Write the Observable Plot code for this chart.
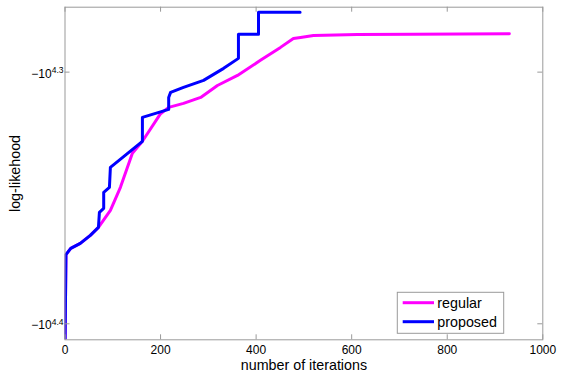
<!DOCTYPE html>
<html><head><meta charset="utf-8">
<script src="https://cdn.jsdelivr.net/npm/d3@7"></script>
<script src="https://cdn.jsdelivr.net/npm/@observablehq/plot@0.6"></script>
<style>body{margin:0;background:#fff} svg{display:block}</style>
</head><body><div id="chart"></div>
<script>
// ---- data ----
const iterRegular = [0, 2, 12, 32, 53, 70, 95, 116, 141, 162, 200, 217, 248, 284, 319, 361, 409, 451, 478, 493, 520, 612, 729, 930];
const llRegular = [-25700, -23580, -23444, -23337, -23167, -22998, -22642, -22171, -21491, -21256, -20726, -20607, -20532, -20420, -20198, -20013, -19739, -19506, -19347, -19329, -19294, -19277, -19271, -19265];
const iterProposed = [0, 2, 12, 32, 53, 70, 72, 81, 81, 93, 95, 162, 162, 217, 217, 221, 248, 290, 332, 363, 363, 405, 405, 492];
const llProposed = [-25700, -23580, -23444, -23337, -23167, -22998, -22684, -22601, -22272, -22171, -21769, -21256, -20797, -20645, -20420, -20326, -20233, -20104, -19884, -19703, -19275, -19275, -18891, -18891];
const xTicks = [0, 200, 400, 600, 800, 1000];
const yTickExponents = [4.3, 4.4];
const seriesNames = ["regular", "proposed"];
const seriesColors = ["#ff00ff", "#0000ff"];
const xLabel = "number of iterations";
const yLabel = "log-likehood";

const yTicks = yTickExponents.map(e => -Math.pow(10, e));
const regular = iterRegular.map((x, i) => ({x, y: llRegular[i]}));
const proposed = iterProposed.map((x, i) => ({x, y: llProposed[i]}));

const W = 564, H = 376, mL = 64.5, mR = 21.7, mT = 6.7, mB = 36.7;
const plotH = H - mT - mB, plotW = W - mL - mR;
const axisColor = "#9a9a9a";
const font = "'Liberation Sans', Arial, sans-serif";

const chart = Plot.plot({
  width: W, height: H,
  marginLeft: mL, marginRight: mR, marginTop: mT, marginBottom: mB,
  style: {fontFamily: font, fontSize: "12px", color: "#000", background: "#fff"},
  x: {domain: [0, 1000]},
  y: {type: "log", domain: [-Math.pow(10, 4.40636), -Math.pow(10, 4.2742)]},
  marks: [
    Plot.line(regular, {x: "x", y: "y", stroke: seriesColors[0], strokeWidth: 3, clip: true}),
    Plot.line(proposed, {x: "x", y: "y", stroke: seriesColors[1], strokeWidth: 3, clip: true}),
    Plot.frame({stroke: axisColor, strokeWidth: 1}),
    Plot.tickX(xTicks, {x: d => d, insetTop: plotH - 5, stroke: axisColor}),
    Plot.tickX(xTicks, {x: d => d, insetBottom: plotH - 5, stroke: axisColor}),
    Plot.tickY(yTicks, {y: d => d, insetRight: plotW - 5, stroke: axisColor}),
    Plot.tickY(yTicks, {y: d => d, insetLeft: plotW - 5, stroke: axisColor}),
    Plot.axisX({ticks: xTicks, tickSize: 0, tickPadding: 6, label: null, tickFormat: d => String(d)}),
    Plot.axisY({ticks: yTicks, tickSize: 0, tickPadding: 1.5, label: null,
      tickFormat: d => "−10|" + (Math.round(Math.log10(-d) * 10) / 10)}),
    Plot.text([xLabel], {text: d => d, frameAnchor: "bottom", dy: 25.5, lineAnchor: "middle", textAnchor: "middle", fontSize: 14.3}),
    Plot.text([yLabel], {text: d => d, frameAnchor: "left", dx: -50, rotate: -90, lineAnchor: "middle", textAnchor: "middle", fontSize: 14.3})
  ]
});

document.getElementById("chart").appendChild(chart);
const svg = chart.tagName.toLowerCase() === "svg" ? chart : chart.querySelector("svg");
const ns = "http://www.w3.org/2000/svg";

// superscript tick labels
svg.querySelectorAll('g[aria-label="y-axis tick label"] text').forEach(t => {
  const parts = t.textContent.split("|");
  t.textContent = "";
  const a = document.createElementNS(ns, "tspan");
  a.textContent = parts[0];
  const b = document.createElementNS(ns, "tspan");
  b.setAttribute("dy", "-4.5");
  b.setAttribute("font-size", "8.5");
  b.textContent = parts[1];
  t.appendChild(a); t.appendChild(b);
  t.setAttribute("transform", (t.getAttribute("transform") || "") + " translate(0,1.8)");
});

// legend
const lg = d3.select(svg).append("g").attr("font-family", font).attr("font-size", 14.3)
  .attr("text-anchor", "start");
lg.append("rect").attr("x", 397.3).attr("y", 292.3).attr("width", 106.4).attr("height", 41)
  .attr("fill", "#fff").attr("stroke", axisColor);
const rowY = [302.7, 321.7];
seriesNames.forEach((name, i) => {
  lg.append("line").attr("x1", 402.7).attr("x2", 434).attr("y1", rowY[i]).attr("y2", rowY[i])
    .attr("stroke", seriesColors[i]).attr("stroke-width", 3);
  lg.append("text").attr("x", 437.3).attr("y", rowY[i] + 5.2).attr("fill", "#000")
    .attr("text-anchor", "start").text(name);
});
</script>
</body></html>
